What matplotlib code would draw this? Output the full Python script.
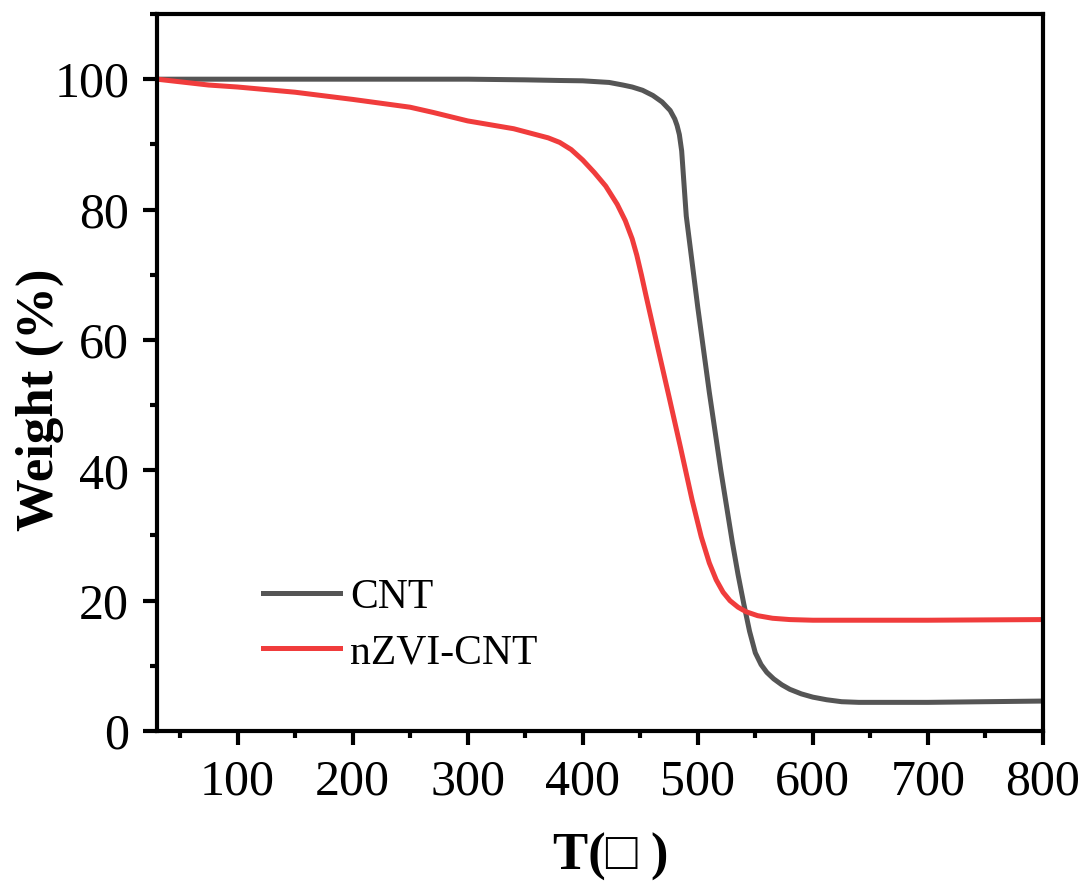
import numpy as np
import matplotlib.pyplot as plt
from matplotlib.ticker import MultipleLocator

plt.rcParams['font.family'] = ['Liberation Serif', 'DejaVu Serif']

# TGA curves
t_cnt = [30, 100, 200, 300, 350, 380, 400, 423, 435, 443, 452, 461, 469, 476,
         480, 482, 484, 486, 488, 490, 495, 500, 510, 520, 530, 535, 540, 545,
         550, 555, 560, 566, 573, 580, 590, 600, 612, 625, 640, 700, 800]
w_cnt = [100, 100, 100, 100, 99.9, 99.8, 99.75, 99.5, 99.1, 98.8, 98.3, 97.5,
         96.5, 95.2, 93.9, 92.9, 91.5, 89.0, 84.0, 79.0, 72.0, 65.0, 52.0, 40.0,
         29.0, 24.0, 19.5, 15.3, 12.0, 10.2, 9.0, 8.0, 7.1, 6.4, 5.7, 5.2, 4.8,
         4.5, 4.4, 4.4, 4.6]

t_nzvi = [30, 50, 75, 100, 150, 200, 250, 270, 300, 340, 370, 380, 390, 400,
          410, 420, 430, 437, 443, 447, 451, 455, 465, 475, 485, 495, 503, 510,
          516, 522, 528, 535, 542, 552, 565, 580, 600, 700, 800]
w_nzvi = [100, 99.6, 99.1, 98.8, 98.0, 96.9, 95.7, 94.9, 93.6, 92.4, 91.0, 90.3,
          89.2, 87.6, 85.7, 83.6, 80.8, 78.3, 75.5, 73.0, 70.0, 66.8, 59.0, 51.3,
          43.5, 35.5, 29.8, 25.8, 23.2, 21.3, 20.0, 19.0, 18.3, 17.7, 17.3, 17.1,
          17.0, 17.0, 17.1]

fig = plt.figure(figsize=(10.87, 8.86), dpi=100)
ax = fig.add_axes([0.1444, 0.1749, 0.8151, 0.8093])

ax.plot(t_cnt, w_cnt, color='#555555', lw=3.6, label='CNT')
ax.plot(t_nzvi, w_nzvi, color='#F03C3C', lw=3.6, label='nZVI-CNT')

ax.set_xlim(30, 800)
ax.set_ylim(0, 110)
ax.xaxis.set_major_locator(MultipleLocator(100))
ax.xaxis.set_minor_locator(MultipleLocator(50))
ax.yaxis.set_major_locator(MultipleLocator(20))
ax.yaxis.set_minor_locator(MultipleLocator(10))
ax.set_xticks([100, 200, 300, 400, 500, 600, 700, 800])

for s in ax.spines.values():
    s.set_linewidth(3)
ax.tick_params(which='major', direction='out', length=10, width=3,
               labelsize=36, pad=10)
ax.tick_params(which='minor', direction='out', length=5, width=3)

fig.text(611 / 1087, 1 - 857 / 886, 'T(\u25a1 )', fontsize=38,
         fontweight='bold', ha='center', va='center')
fig.text(40 / 1087, 1 - 400 / 886, 'Weight (%)', fontsize=38,
         fontweight='bold', ha='center', va='center', rotation=90)

ax.legend(loc='lower left', bbox_to_anchor=(0.077, 0.03), frameon=False,
          fontsize=30, handlelength=1.85, handletextpad=0.25, labelspacing=0.4)

fig.savefig('out.png', dpi=100)
